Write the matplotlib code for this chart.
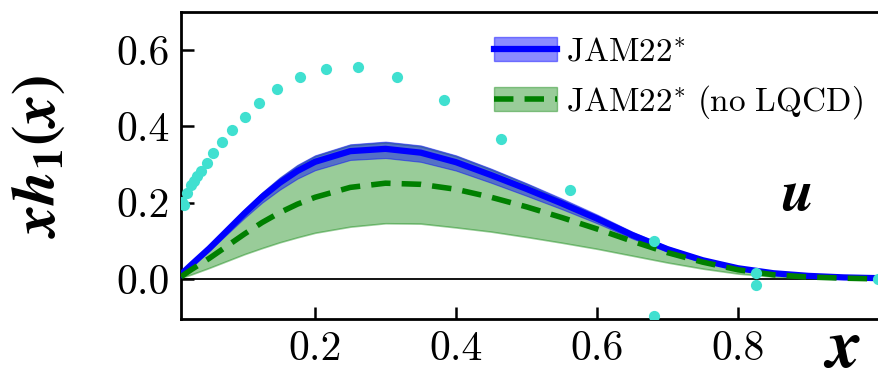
import numpy as np
import matplotlib
matplotlib.use("Agg")
import matplotlib.pyplot as plt
from matplotlib.patches import Patch
from matplotlib.lines import Line2D

plt.rcParams['font.family'] = 'serif'
plt.rcParams['font.serif'] = ['cmr10']
plt.rcParams['mathtext.fontset'] = 'cm'
plt.rcParams['axes.formatter.use_mathtext'] = True

# x grid of the curves
x = [0.01, 0.025, 0.05, 0.075, 0.1, 0.125, 0.15, 0.175, 0.2, 0.25, 0.3, 0.35, 0.4,
     0.45, 0.5, 0.55, 0.6, 0.65, 0.7, 0.75, 0.8, 0.85, 0.9, 0.95, 1.0]

# JAM22*
jam_mid = [0.012, 0.038, 0.080, 0.126, 0.172, 0.215, 0.252, 0.283, 0.307, 0.335, 0.341, 0.331, 0.306,
           0.272, 0.236, 0.198, 0.158, 0.115, 0.078, 0.049, 0.028, 0.015, 0.008, 0.004, 0.002]
jam_up = [0.013, 0.040, 0.084, 0.133, 0.182, 0.227, 0.266, 0.299, 0.324, 0.353, 0.360, 0.350, 0.324,
          0.289, 0.251, 0.211, 0.169, 0.124, 0.085, 0.054, 0.031, 0.017, 0.009, 0.005, 0.002]
jam_lo = [0.011, 0.035, 0.074, 0.117, 0.160, 0.200, 0.234, 0.263, 0.285, 0.312, 0.317, 0.307, 0.284,
          0.252, 0.218, 0.183, 0.146, 0.106, 0.071, 0.044, 0.025, 0.013, 0.007, 0.004, 0.002]

# JAM22* (no LQCD)
nolq_mid = [0.006, 0.025, 0.054, 0.086, 0.118, 0.148, 0.174, 0.196, 0.214, 0.240, 0.251, 0.248, 0.235,
            0.214, 0.189, 0.161, 0.131, 0.099, 0.069, 0.044, 0.024, 0.011, 0.005, 0.002, 0.000]
nolq_up = [0.012, 0.038, 0.082, 0.131, 0.180, 0.225, 0.264, 0.297, 0.322, 0.351, 0.358, 0.348, 0.322,
           0.287, 0.249, 0.208, 0.166, 0.121, 0.082, 0.051, 0.029, 0.015, 0.008, 0.004, 0.001]
nolq_lo = [0.003, 0.012, 0.029, 0.047, 0.065, 0.081, 0.096, 0.109, 0.121, 0.137, 0.146, 0.145, 0.135,
           0.124, 0.110, 0.095, 0.079, 0.061, 0.043, 0.027, 0.014, 0.006, 0.002, 0.001, 0.000]

# lattice points
lq_x = [0.012, 0.014, 0.019, 0.024, 0.028, 0.033, 0.038, 0.047, 0.055, 0.068, 0.082, 0.100,
        0.121, 0.146, 0.178, 0.215, 0.261, 0.316, 0.383, 0.464, 0.562, 0.681, 0.681,
        0.826, 0.826, 0.998]
lq_y = [0.202, 0.193, 0.224, 0.245, 0.258, 0.271, 0.284, 0.304, 0.330, 0.359, 0.391, 0.425,
        0.462, 0.498, 0.529, 0.550, 0.555, 0.530, 0.469, 0.367, 0.232, 0.099, -0.097,
        0.015, -0.016, 0.000]

dash = (0, (3.5, 2))

fig = plt.figure(figsize=(8.79, 3.72), dpi=100)
ax = fig.add_axes([0.206, 0.1425, 0.794, 0.8255])

ax.axhline(0, color='k', lw=1.3, zorder=1)

ax.fill_between(x, nolq_lo, nolq_up, color='g', alpha=0.4, lw=1.2, zorder=2)
ax.plot(x, nolq_mid, color='g', ls=dash, lw=4, zorder=4)

ax.fill_between(x, jam_lo, jam_up, color='b', alpha=0.45, lw=0.8, zorder=3)
ax.plot(x, jam_mid, color='b', lw=4.5, zorder=3)

ax.scatter(lq_x, lq_y, s=65, color='turquoise', lw=0, zorder=5)

ax.set_xlim(0.01, 1.0)
ax.set_ylim(-0.105, 0.70)
ax.set_xticks([0.2, 0.4, 0.6, 0.8])
ax.set_yticks([0.0, 0.2, 0.4, 0.6])
ax.set_xticklabels(['0.2', '0.4', '0.6', '0.8'])
ax.set_yticklabels(['0.0', '0.2', '0.4', '0.6'])
ax.tick_params(direction='in', length=9, width=1.8, labelsize=30, pad=8)
for sp in ax.spines.values():
    sp.set_linewidth(2)

ax.set_ylabel(r'$\mathbfit{xh}_{\mathbf{1}}\mathbf{(}\mathbfit{x}\mathbf{)}$',
              fontsize=44, math_fontfamily='stix')
ax.yaxis.set_label_coords(-0.163, 0.53)
fig.text(0.958, 0.06, r'$\mathbfit{x}$', fontsize=50, math_fontfamily='stix',
         ha='center', va='center')
ax.text(0.882, 0.355, r'$\mathbfit{u}$', fontsize=42, math_fontfamily='stix',
        transform=ax.transAxes, ha='center', va='baseline')

h1 = (Patch(facecolor='b', edgecolor='b', alpha=0.45), Line2D([], [], color='b', lw=4.5))
h2 = (Patch(facecolor='g', edgecolor='g', alpha=0.4), Line2D([], [], color='g', lw=4, ls=dash))
ax.legend([h1, h2], [r'$\mathrm{JAM22}^{*}$', r'$\mathrm{JAM22}^{*}\ \mathrm{(no\ LQCD)}$'],
          loc='upper right', bbox_to_anchor=(1.01, 0.995), frameon=False, fontsize=24,
          handlelength=1.9, handleheight=0.72, handletextpad=0.25, labelspacing=0.5,
          borderpad=0.2)

fig.savefig('out.png', dpi=100)
